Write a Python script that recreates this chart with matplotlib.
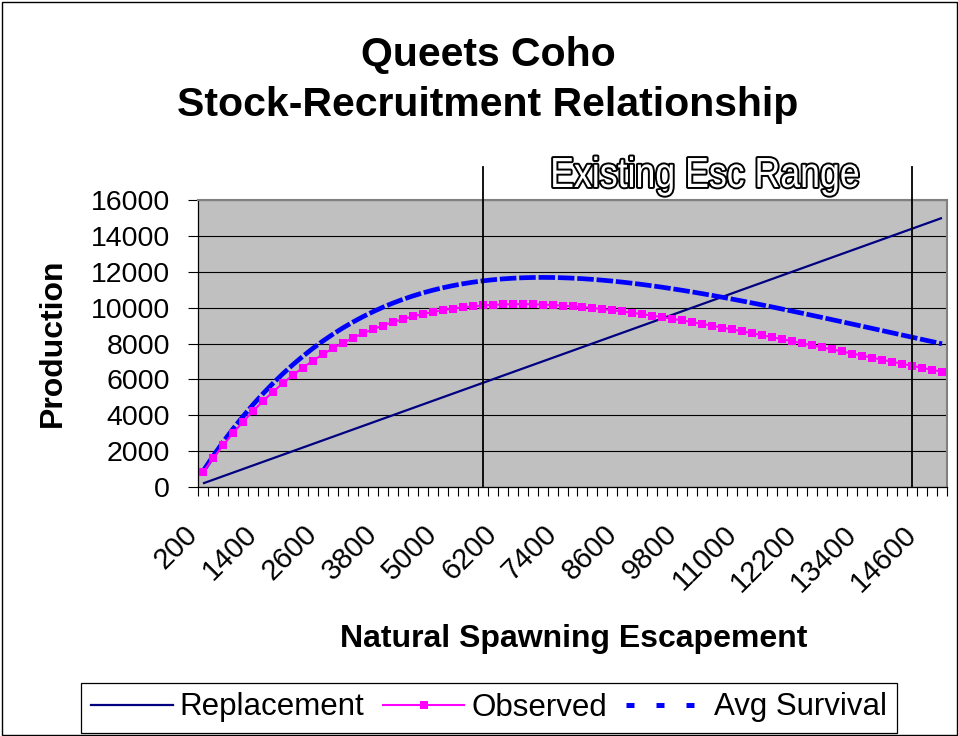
import matplotlib
matplotlib.use("Agg")
import matplotlib.pyplot as plt
import matplotlib.transforms as mtransforms
from matplotlib.lines import Line2D
from matplotlib.patches import Rectangle
import matplotlib.patheffects as pe

plt.rcParams['font.family'] = ['Liberation Sans', 'DejaVu Sans']

# ---------------- data ----------------
escapement = list(range(200, 15001, 200))  # category axis, 75 categories

replacement = [
    200, 400, 600, 800, 1000, 1200, 1400, 1600, 1800, 2000,
    2200, 2400, 2600, 2800, 3000, 3200, 3400, 3600, 3800, 4000,
    4200, 4400, 4600, 4800, 5000, 5200, 5400, 5600, 5800, 6000,
    6200, 6400, 6600, 6800, 7000, 7200, 7400, 7600, 7800, 8000,
    8200, 8400, 8600, 8800, 9000, 9200, 9400, 9600, 9800, 10000,
    10200, 10400, 10600, 10800, 11000, 11200, 11400, 11600, 11800, 12000,
    12200, 12400, 12600, 12800, 13000, 13200, 13400, 13600, 13800, 14000,
    14200, 14400, 14600, 14800, 15000]

observed = [
    821, 1592, 2316, 2995, 3631, 4226, 4782, 5301, 5785, 6234,
    6651, 7038, 7395, 7724, 8027, 8305, 8558, 8789, 8999, 9187,
    9357, 9507, 9641, 9757, 9858, 9944, 10016, 10075, 10121, 10155,
    10178, 10190, 10193, 10186, 10170, 10146, 10114, 10075, 10029, 9977,
    9919, 9855, 9787, 9713, 9635, 9553, 9467, 9378, 9285, 9190,
    9092, 8991, 8889, 8784, 8678, 8570, 8460, 8350, 8238, 8126,
    8013, 7899, 7785, 7671, 7557, 7442, 7328, 7214, 7099, 6986,
    6873, 6760, 6648, 6536, 6425]

avg_survival = [
    882, 1714, 2499, 3238, 3933, 4587, 5200, 5776, 6315, 6819,
    7290, 7728, 8136, 8515, 8867, 9191, 9491, 9766, 10018, 10249,
    10458, 10647, 10818, 10970, 11105, 11224, 11328, 11416, 11491, 11552,
    11601, 11638, 11664, 11679, 11684, 11679, 11665, 11643, 11613, 11575,
    11530, 11479, 11421, 11357, 11288, 11214, 11135, 11052, 10964, 10873,
    10778, 10680, 10579, 10475, 10368, 10259, 10148, 10036, 9921, 9805,
    9688, 9569, 9450, 9329, 9208, 9086, 8964, 8842, 8719, 8596,
    8473, 8351, 8228, 8106, 7984]

existing_range = [5800, 14400]   # vertical markers of existing escapement range
label_every = 6
y_ticks = [0, 2000, 4000, 6000, 8000, 10000, 12000, 14000, 16000]


class StretchedOutline(pe.AbstractPathEffect):
    """Outline text (stroke + fill) stretched vertically about its baseline."""

    def __init__(self, sy=1.0, linewidth=3, foreground='black'):
        super().__init__()
        self.sy = sy
        self.lw = linewidth
        self.fg = foreground

    def draw_path(self, renderer, gc, tpath, affine, rgbFace=None):
        aff = mtransforms.Affine2D().scale(1, self.sy) + affine
        gc0 = renderer.new_gc()
        gc0.copy_properties(gc)
        gc0.set_linewidth(self.lw)
        gc0.set_foreground(self.fg)
        gc0.set_joinstyle('round')
        renderer.draw_path(gc0, tpath, aff, rgbFace)
        gc0.restore()
        renderer.draw_path(gc, tpath, aff, rgbFace)


# ---------------- figure ----------------
W, H = 958, 736
fig = plt.figure(figsize=(W / 100, H / 100), dpi=100)
fig.patch.set_facecolor('white')

L, R, T, B = 198, 947, 200, 487
ax = fig.add_axes([L / W, 1 - B / H, (R - L) / W, (B - T) / H])
ax.set_facecolor('#C0C0C0')

x = list(range(len(escapement)))
ax.plot(x, replacement, color='#000080', lw=1.6, zorder=3, solid_capstyle='butt')
ax.plot(x, avg_survival, color='#0000FF', lw=3.4, ls=(0, (3.5, 0.6)), zorder=4)
ax.plot(x, observed, color='#FF00FF', lw=1.5, marker='s', ms=5.3,
        markeredgewidth=0, zorder=5)

ax.set_xlim(-0.5, len(escapement) - 0.5)
ax.set_ylim(0, 16000)

# gridlines
ax.set_yticks(y_ticks)
ax.set_yticklabels([str(v) for v in y_ticks], fontsize=20.5)
ax.yaxis.grid(True, color='black', lw=0.8)
ax.set_axisbelow(True)
ax.tick_params(axis='y', direction='out', length=7, width=0.8, pad=13)

# x ticks: minor ticks between categories, labels every 6th
ax.set_xticks([i - 0.5 for i in range(len(escapement) + 1)], minor=True)
major = list(range(0, len(escapement), label_every))
ax.set_xticks(major)
ax.set_xticklabels([str(escapement[i]) for i in major], fontsize=21,
                   rotation=45, ha='right', va='center', rotation_mode='anchor')
ax.tick_params(axis='x', which='minor', direction='out', length=6.5, width=0.8)
ax.tick_params(axis='x', which='major', length=0, pad=31)
offset = mtransforms.ScaledTranslation(-10 / 100, 0, fig.dpi_scale_trans)
for lab in ax.get_xticklabels():
    lab.set_transform(lab.get_transform() + offset)

for s in ('left', 'bottom'):
    ax.spines[s].set_color('black')
    ax.spines[s].set_linewidth(0.9)
for s in ('top', 'right'):
    ax.spines[s].set_color('#808080')
    ax.spines[s].set_linewidth(1.5)

# existing escapement range lines
top_ext = (B - 166.5) / (B - T)
for v in existing_range:
    xi = (v - escapement[0]) / (escapement[1] - escapement[0])
    ax.axvline(xi, ymin=0, ymax=top_ext, color='black', lw=1.3,
               clip_on=False, zorder=6)

# titles and labels
fig.text(488 / W, 1 - 66 / H, 'Queets Coho', ha='center', va='baseline',
         fontsize=29.5, weight='bold')
fig.text(488 / W, 1 - 116 / H, 'Stock-Recruitment Relationship', ha='center',
         va='baseline', fontsize=29.5, weight='bold')
fig.text(53 / W, 1 - 343 / H, 'Production', rotation=90, ha='center',
         va='center', fontsize=23, weight='bold')
fig.text(574 / W, 1 - 647 / H, 'Natural Spawning Escapement', ha='center',
         va='baseline', fontsize=23, weight='bold')
fig.text(704.5 / W, 1 - 187 / H, 'Existing Esc Range', ha='center',
         va='baseline', fontsize=25.7, color='white',
         path_effects=[StretchedOutline(sy=1.18, linewidth=2.8)])

# legend
h_rep = Line2D([], [], color='#000080', lw=1.6)
h_obs = Line2D([], [], color='#FF00FF', lw=1.5, marker='s', ms=5.3,
               markeredgewidth=0)
h_avg = Line2D([], [], color='#0000FF', lw=3.6, ls=(0, (1.6, 4.4)))
leg = fig.legend([h_rep, h_obs, h_avg], ['Replacement', 'Observed', 'Avg Survival'],
                 loc='center', bbox_to_anchor=(489 / W, 1 - 707.5 / H),
                 bbox_transform=fig.transFigure, ncol=3, fontsize=22.5,
                 frameon=True, fancybox=False, framealpha=1, edgecolor='black',
                 handlelength=2.6, handletextpad=0.22, columnspacing=0.6,
                 borderpad=0.32, borderaxespad=0)
leg.get_frame().set_linewidth(0.9)

# figure border
fig.patches.append(Rectangle((1.5 / W, 1.5 / H), 1 - 3 / W, 1 - 3 / H,
                             transform=fig.transFigure, fill=False,
                             edgecolor='black', lw=1.0))

fig.savefig('out.png', dpi=100, facecolor='white')
